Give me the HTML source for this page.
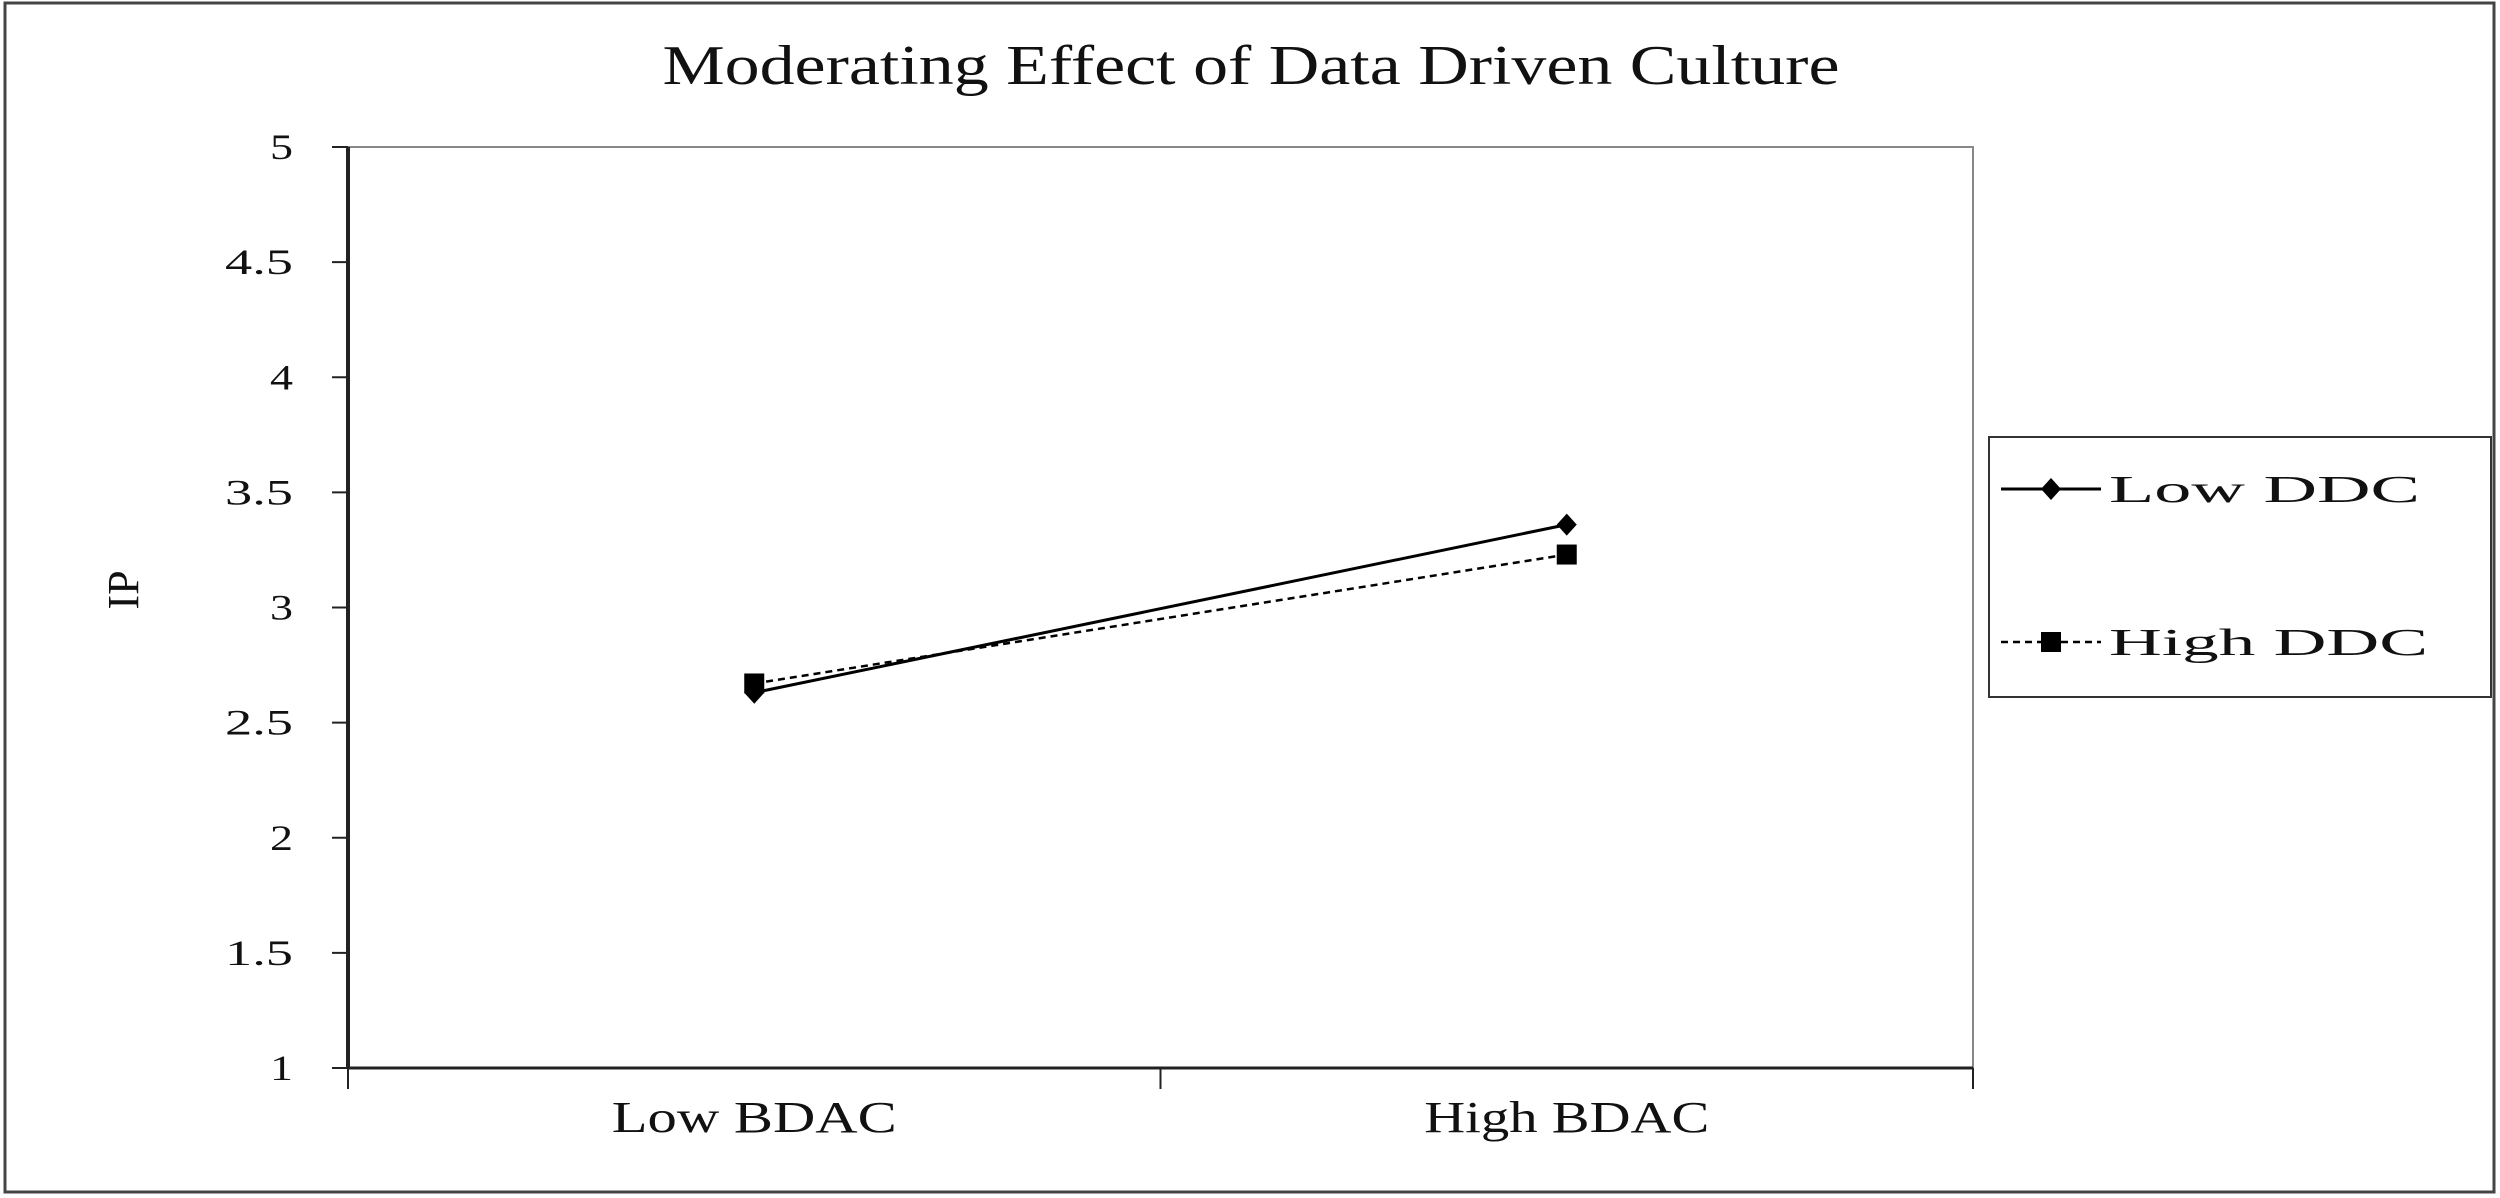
<!DOCTYPE html>
<html><head><meta charset="utf-8"><style>html,body{margin:0;padding:0;background:#fff}svg{display:block}text{font-family:"Liberation Serif",serif;fill:#111}</style></head>
<body>
<svg id="chart" width="2500" height="1198" viewBox="0 0 2500 1198">
<rect x="5" y="3" width="2489" height="1189" fill="#fff" stroke="#444" stroke-width="3"/>
<text x="1251" y="84" text-anchor="middle" font-size="56" textLength="1177" lengthAdjust="spacingAndGlyphs">Moderating Effect of Data Driven Culture</text>
<rect x="348" y="147" width="1625" height="921" fill="none" stroke="#888" stroke-width="2"/>
<text transform="translate(138,590) rotate(-90)" text-anchor="middle" font-size="44">IP</text>
<g id="axes"></g>
<g id="series"></g>
<g>
<rect x="1989" y="437" width="502" height="260" fill="#fff" stroke="#333" stroke-width="2"/>
<g>
<line x1="2001" y1="489" x2="2101" y2="489" stroke="#000" stroke-width="3"/>
<polygon points="2051,478 2061,489 2051,500 2041,489" fill="#000"/>
<text x="2109" y="502" font-size="38" textLength="311" lengthAdjust="spacingAndGlyphs">Low DDC</text>
</g>
<g>
<line x1="2001" y1="642" x2="2101" y2="642" stroke="#000" stroke-width="2.5" stroke-dasharray="7,5"/>
<rect x="2041" y="632" width="20" height="20" fill="#000"/>
<text x="2109" y="655" font-size="38" textLength="319" lengthAdjust="spacingAndGlyphs">High DDC</text>
</g>
</g>
</svg>
<script>
const categories = ["Low BDAC", "High BDAC"];
const lowDDC = [2.63, 3.36];
const highDDC = [2.67, 3.23];
const yTicks = [1, 1.5, 2, 2.5, 3, 3.5, 4, 4.5, 5];
const yTickLabels = ["1", "1.5", "2", "2.5", "3", "3.5", "4", "4.5", "5"];

const NS = "http://www.w3.org/2000/svg";
const L = 348, R = 1973, T = 147, B = 1068, yMin = 1, yMax = 5;
const yS = v => B - (v - yMin) / (yMax - yMin) * (B - T);
const band = (R - L) / categories.length;
const xS = i => L + band * (i + 0.5);
function mk(tag, attrs, parent) {
  const e = document.createElementNS(NS, tag);
  for (const k in attrs) e.setAttribute(k, attrs[k]);
  parent.appendChild(e);
  return e;
}
const axes = document.getElementById("axes");
const series = document.getElementById("series");
let e;
e = mk("line", {x1: L, y1: T, x2: L, y2: B, stroke: "#222", "stroke-width": 4}, axes);


e = mk("line", {x1: L, y1: B, x2: R, y2: B, stroke: "#222", "stroke-width": 3}, axes);


yTicks.forEach((v, i) => {
  const y = yS(v);
  const t = mk("line", {x1: 332, y1: y, x2: L, y2: y, stroke: "#222", "stroke-width": 2}, axes);
  
  
  const s = yTickLabels[i];
  const lab = mk("text", {x: 293, y: y + 12, "text-anchor": "end", "font-size": 36, textLength: s.length > 1 ? 68 : 23, lengthAdjust: "spacingAndGlyphs"}, axes);
  lab.textContent = s;
  
  
});
for (let i = 0; i <= categories.length; i++) {
  const x = L + band * i;
  const t = mk("line", {x1: x, y1: B, x2: x, y2: 1089, stroke: "#222", "stroke-width": 2}, axes);
  
  
}
categories.forEach((c, i) => {
  const lab = mk("text", {x: xS(i), y: 1132, "text-anchor": "middle", "font-size": 44, textLength: 285, lengthAdjust: "spacingAndGlyphs"}, axes);
  lab.textContent = c;
  
  
});
function drawSeries(vals, dashed, marker, name) {
  const pts = vals.map((v, i) => xS(i) + "," + yS(v)).join(" ");
  const pl = mk("polyline", {points: pts, fill: "none", stroke: "#000", "stroke-width": dashed ? 2.5 : 3, "stroke-dasharray": dashed ? "7,5" : "none"}, series);
  
  
  vals.forEach((v, i) => {
    const x = xS(i), y = yS(v);
    let m;
    if (marker === "diamond") m = mk("polygon", {points: `${x},${y-11} ${x+10},${y} ${x},${y+11} ${x-10},${y}`, fill: "#000"}, series);
    else m = mk("rect", {x: x - 10, y: y - 10, width: 20, height: 20, fill: "#000"}, series);
    
    
  });
}
drawSeries(highDDC, true, "square", "high-ddc");
drawSeries(lowDDC, false, "diamond", "low-ddc");
</script>
</body></html>
